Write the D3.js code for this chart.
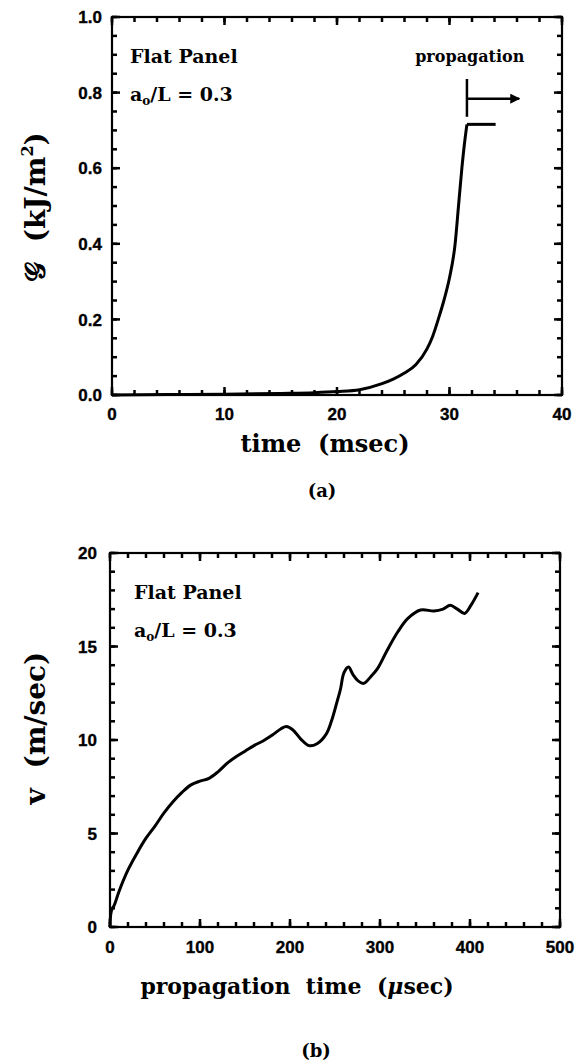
<!DOCTYPE html>
<html><head><meta charset="utf-8">
<script src="https://cdn.jsdelivr.net/npm/d3@7"></script>
<style>body{margin:0;background:#fff}</style>
</head><body>
<script>
// ---- Panel (a) data ----
const timeA = [0, 5, 10, 15, 18, 20, 22, 24, 25, 26, 27, 28, 28.5, 29, 29.5, 30, 30.5, 30.8, 31.1, 31.35, 31.55];
const gA    = [0, 0.001, 0.002, 0.004, 0.006, 0.009, 0.014, 0.03, 0.042, 0.058, 0.08, 0.122, 0.155, 0.2, 0.25, 0.31, 0.4, 0.5, 0.6, 0.67, 0.716];
const plateauTime = [31.55, 34.1];
const plateauG    = [0.716, 0.716];
const markerTime  = [31.55, 31.55];
const markerG     = [0.736, 0.836];
const arrowTime   = [31.55, 36.2];
const arrowG      = [0.784, 0.784];
const xTicksA = [0, 10, 20, 30, 40];
const yTicksA = [0, 0.2, 0.4, 0.6, 0.8, 1.0];

// ---- Panel (b) data ----
const timeB = [0, 1.5, 5, 10, 20, 30, 40, 50, 60, 70, 80, 90, 100, 110, 120, 130, 140, 150, 160, 170, 180, 190, 196, 203, 212, 221, 230, 240, 246, 252, 256, 260, 265, 270, 276, 282, 290, 297, 308, 320, 331, 345, 360, 370, 378, 386, 394, 401, 409];
const velB  = [0, 0.85, 1.2, 1.9, 3.05, 3.95, 4.75, 5.4, 6.1, 6.7, 7.2, 7.6, 7.8, 7.95, 8.3, 8.75, 9.1, 9.4, 9.7, 9.95, 10.25, 10.6, 10.72, 10.55, 10.05, 9.7, 9.8, 10.3, 11.0, 12.0, 12.7, 13.6, 13.9, 13.5, 13.15, 13.03, 13.4, 13.8, 14.8, 15.8, 16.5, 16.95, 16.9, 17.0, 17.2, 17.0, 16.77, 17.2, 17.88];
const xTicksB = [0, 100, 200, 300, 400, 500];
const yTicksB = [0, 5, 10, 15, 20];

const W = 576, H = 1063;
const svg = d3.select('body').append('svg').attr('width', W).attr('height', H);
svg.append('rect').attr('width', W).attr('height', H).attr('fill', '#fff');

svg.append('defs').append('marker')
  .attr('id', 'ah').attr('viewBox', '0 0 10 10').attr('refX', 9).attr('refY', 5)
  .attr('markerWidth', 4).attr('markerHeight', 4).attr('orient', 'auto')
  .attr('markerUnits', 'strokeWidth')
  .append('path').attr('d', 'M0,0 L10,5 L0,10 z').attr('fill', '#000');

const TICKFONT = "'Liberation Sans', Arial, sans-serif";
const SERIF = "'DejaVu Serif', serif";

function panel(o) {
  const x = d3.scaleLinear().domain(o.xDomain).range([o.left, o.right]);
  const y = d3.scaleLinear().domain(o.yDomain).range([o.bottom, o.top]);
  const g = svg.append('g');
  const TW = 2.5;
  // inward tick marks on all four sides, placed by the scales
  const xTicksRects = (vals, len) => {
    g.selectAll(null).data(vals).enter().append('rect')
      .attr('x', d => x(d) - TW / 2).attr('y', o.bottom - len).attr('width', TW).attr('height', len)
      .attr('fill', '#000');
    g.selectAll(null).data(vals).enter().append('rect')
      .attr('x', d => x(d) - TW / 2).attr('y', o.top).attr('width', TW).attr('height', len)
      .attr('fill', '#000');
  };
  const yTicksRects = (vals, len) => {
    g.selectAll(null).data(vals).enter().append('rect')
      .attr('x', o.left).attr('y', d => y(d) - TW / 2).attr('width', len).attr('height', TW)
      .attr('fill', '#000');
    g.selectAll(null).data(vals).enter().append('rect')
      .attr('x', o.right - len).attr('y', d => y(d) - TW / 2).attr('width', len).attr('height', TW)
      .attr('fill', '#000');
  };
  xTicksRects(o.xMinor, 5); xTicksRects(o.xTicks, 8);
  yTicksRects(o.yMinor, 5); yTicksRects(o.yTicks, 8);

  const lab = sel => sel.attr('font-family', TICKFONT).attr('font-weight', 'bold')
    .attr('font-size', 17).attr('fill', '#000').attr('stroke', '#000').attr('stroke-width', 0.35);
  g.selectAll(null).data(o.xTicks).enter().append('text')
    .attr('x', d => x(d)).attr('y', o.bottom + o.xPad).attr('text-anchor', 'middle')
    .call(lab).text(o.xFmt);
  g.selectAll(null).data(o.yTicks).enter().append('text')
    .attr('x', o.left - o.yPad).attr('y', d => y(d)).attr('dy', '0.36em').attr('text-anchor', 'end')
    .call(lab).text(o.yFmt);

  g.append('rect').attr('x', o.left).attr('y', o.top)
    .attr('width', o.right - o.left).attr('height', o.bottom - o.top)
    .attr('fill', 'none').attr('stroke', '#000').attr('stroke-width', 2.2);
  return {x, y, g};
}

// ---------- Panel (a) ----------
const A = panel({
  left: 112, right: 562, top: 17, bottom: 395,
  xDomain: [0, 40], yDomain: [0, 1],
  xTicks: xTicksA, xMinor: d3.range(0, 40.001, 2),
  yTicks: yTicksA, yMinor: d3.range(0, 1.0001, 0.05),
  xPad: 25, yPad: 10, xFmt: d3.format('d'), yFmt: d3.format('.1f')
});
const lineA = d3.line().x(d => A.x(d[0])).y(d => A.y(d[1])).curve(d3.curveMonotoneX);
A.g.append('path').datum(timeA.map((t, i) => [t, gA[i]]))
  .attr('d', lineA).attr('fill', 'none').attr('stroke', '#000').attr('stroke-width', 3)
  .attr('stroke-linejoin', 'round');
const straight = d3.line().x(d => A.x(d[0])).y(d => A.y(d[1]));
A.g.append('path').datum(plateauTime.map((t, i) => [t, plateauG[i]]))
  .attr('d', straight).attr('fill', 'none').attr('stroke', '#000').attr('stroke-width', 3);
A.g.append('path').datum(markerTime.map((t, i) => [t, markerG[i]]))
  .attr('d', straight).attr('fill', 'none').attr('stroke', '#000').attr('stroke-width', 2.5);
A.g.append('path').datum(arrowTime.map((t, i) => [t, arrowG[i]]))
  .attr('d', straight).attr('fill', 'none').attr('stroke', '#000').attr('stroke-width', 2.5)
  .attr('marker-end', 'url(#ah)');

function annot(P, top, dx) {
  const base = sel => sel.attr('font-family', SERIF).attr('font-weight', 'bold')
    .attr('font-size', 19).attr('fill', '#000');
  P.g.append('text').attr('x', P.x(0) + dx).attr('y', top + 46).call(base)
    .attr('xml:space', 'preserve').text('Flat Panel');
  const t2 = P.g.append('text').attr('x', P.x(0) + dx).attr('y', top + 84).call(base)
    .attr('xml:space', 'preserve');
  t2.append('tspan').text('a');
  t2.append('tspan').attr('font-size', 12).attr('dy', 4).text('o');
  t2.append('tspan').attr('dy', -4).text('/L = 0.3');
}
annot(A, 17, 18);
A.g.append('text').attr('x', A.x(31.8)).attr('y', 62).attr('text-anchor', 'middle')
  .attr('font-family', SERIF).attr('font-weight', 'bold').attr('font-size', 16)
  .attr('fill', '#000').text('propagation');

const ttl = sel => sel.attr('font-family', SERIF).attr('font-weight', 'bold').attr('fill', '#000')
  .attr('text-anchor', 'middle').attr('xml:space', 'preserve');
svg.append('text').attr('x', 325).attr('y', 452).call(ttl).attr('font-size', 24)
  .text('time  (msec)');
svg.append('text').attr('x', 322).attr('y', 497).call(ttl).attr('font-size', 18).text('(a)');
const ya = svg.append('text').attr('transform', 'translate(45,207) rotate(-90)')
  .call(ttl).attr('font-size', 28);
ya.append('tspan').text('𝒢');
ya.append('tspan').text('  (kJ/m');
ya.append('tspan').attr('font-size', 16).attr('dy', -12).text('2');
ya.append('tspan').attr('dy', 12).text(')');

// ---------- Panel (b) ----------
const B = panel({
  left: 110, right: 560, top: 553, bottom: 927,
  xDomain: [0, 500], yDomain: [0, 20],
  xTicks: xTicksB, xMinor: d3.range(0, 500.001, 20),
  yTicks: yTicksB, yMinor: d3.range(0, 20.001, 1),
  xPad: 26, yPad: 13, xFmt: d3.format('d'), yFmt: d3.format('d')
});
const lineB = d3.line().x(d => B.x(d[0])).y(d => B.y(d[1])).curve(d3.curveCatmullRom.alpha(0.5));
B.g.append('path').datum(timeB.map((t, i) => [t, velB[i]]))
  .attr('d', lineB).attr('fill', 'none').attr('stroke', '#000').attr('stroke-width', 3)
  .attr('stroke-linejoin', 'round');
annot(B, 553, 24);

const xb = svg.append('text').attr('x', 297).attr('y', 994).call(ttl).attr('font-size', 22);
xb.append('tspan').text('propagation  time  (');
xb.append('tspan').attr('font-style', 'italic').text('μ');
xb.append('tspan').text('sec)');
svg.append('text').attr('x', 316).attr('y', 1057).call(ttl).attr('font-size', 18).text('(b)');
svg.append('text').attr('transform', 'translate(45,728) rotate(-90)')
  .call(ttl).attr('font-size', 28).text('v  (m/sec)');
</script>
</body></html>
